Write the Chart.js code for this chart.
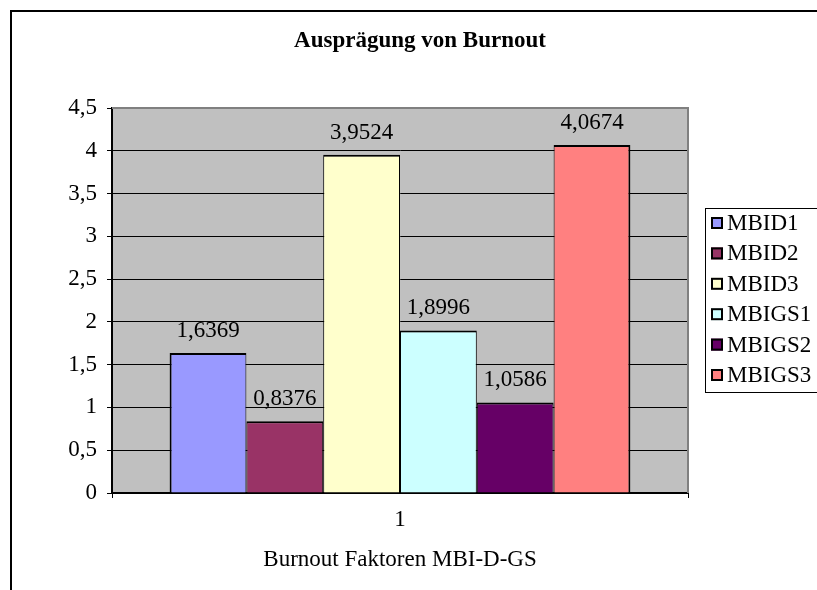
<!DOCTYPE html>
<html><head><meta charset="utf-8">
<script src="https://cdn.jsdelivr.net/npm/chart.js@4/dist/chart.umd.min.js"></script>
<style>html,body{margin:0;padding:0;background:#fff;overflow:hidden}canvas{display:block}</style>
</head><body>
<canvas id="c" width="817" height="590"></canvas>
<script>
const chartTitle = 'Ausprägung von Burnout';
const axisTitle = 'Burnout Faktoren MBI-D-GS';
const categories = ['1'];
const seriesNames = ['MBID1', 'MBID2', 'MBID3', 'MBIGS1', 'MBIGS2', 'MBIGS3'];
const seriesValues = [1.6369, 0.8376, 3.9524, 1.8996, 1.0586, 4.0674];
const seriesColors = ['#9999FF', '#993366', '#FFFFCC', '#CCFFFF', '#660066', '#FF8080'];
const yMin = 0, yMax = 4.5, yStep = 0.5;

const FONT = "'Liberation Serif','Times New Roman',serif";
const fmt = v => String(v).replace('.', ',');

const datasets = seriesNames.map((name, i) => ({
  label: name,
  data: [seriesValues[i]],
  backgroundColor: seriesColors[i],
  borderColor: '#000',
  borderWidth: {top: 2, bottom: 0, left: i === 0 ? 2 : 1, right: i === seriesNames.length - 1 ? 2 : 1},
  borderSkipped: false,
  categoryPercentage: 0.8,
  barPercentage: 1.0
}));

const deco = {
  id: 'deco',
  beforeDraw(chart) {
    const {ctx, chartArea: a} = chart;
    ctx.save();
    ctx.fillStyle = '#fff';
    ctx.fillRect(0, 0, chart.width, chart.height);
    ctx.fillStyle = '#C0C0C0';
    ctx.fillRect(a.left, a.top, a.right - a.left, a.bottom - a.top);
    ctx.restore();
  },
  afterDatasetsDraw(chart) {
    const ctx = chart.ctx;
    ctx.save();
    ctx.font = '23px ' + FONT;
    ctx.fillStyle = '#000';
    ctx.textAlign = 'center';
    ctx.textBaseline = 'alphabetic';
    chart.data.datasets.forEach((ds, i) => {
      const el = chart.getDatasetMeta(i).data[0];
      ctx.fillText(ds.data[0].toFixed(4).replace('.', ','), el.x, el.y - 16);
    });
    ctx.restore();
  },
  afterDraw(chart) {
    const {ctx, chartArea: a} = chart;
    ctx.save();
    // plot border top/right
    ctx.strokeStyle = '#808080';
    ctx.lineWidth = 2;
    ctx.beginPath();
    ctx.moveTo(a.left, a.top);
    ctx.lineTo(a.right, a.top);
    ctx.lineTo(a.right, a.bottom);
    ctx.stroke();
    // outer frame
    ctx.strokeStyle = '#000';
    ctx.lineWidth = 2;
    ctx.strokeRect(11, 11, 900, 700);
    // title
    ctx.fillStyle = '#000';
    ctx.font = 'bold 23px ' + FONT;
    ctx.textAlign = 'center';
    ctx.textBaseline = 'alphabetic';
    ctx.fillText(chartTitle, 420, 47);
    // legend
    const lx = 705, ly = 208;
    ctx.fillStyle = '#fff';
    ctx.fillRect(lx, ly, 140, 184);
    ctx.strokeStyle = '#000';
    ctx.lineWidth = 1;
    ctx.strokeRect(lx + 0.5, ly + 0.5, 140, 184);
    ctx.font = '23px ' + FONT;
    ctx.textAlign = 'left';
    chart.data.datasets.forEach((ds, i) => {
      const base = 230 + i * 30.4;
      ctx.fillStyle = ds.backgroundColor;
      ctx.fillRect(711, base - 13, 12, 12);
      ctx.strokeStyle = '#000';
      ctx.lineWidth = 2;
      ctx.strokeRect(712, base - 12, 10, 10);
      ctx.fillStyle = '#000';
      ctx.fillText(ds.label, 727, base);
    });
    ctx.restore();
  }
};

new Chart(document.getElementById('c'), {
  type: 'bar',
  data: {labels: categories, datasets},
  options: {
    responsive: false,
    animation: false,
    devicePixelRatio: 1,
    layout: {padding: {left: 12, right: 129, top: 108, bottom: 0}},
    plugins: {legend: {display: false}, title: {display: false}, tooltip: {enabled: false}},
    scales: {
      x: {
        grid: {display: true, drawOnChartArea: false, offset: true, tickLength: 5, color: '#000', lineWidth: 1},
        border: {display: true, color: '#000', width: 2},
        ticks: {color: '#000', font: {family: FONT, size: 23}, padding: 8},
        title: {display: true, text: axisTitle, color: '#000', font: {family: FONT, size: 23}, padding: {top: 0, bottom: 16}},
        afterFit(scale) { scale.height = 97; }
      },
      y: {
        min: yMin, max: yMax,
        grid: {color: '#000', lineWidth: 1, tickLength: 5},
        border: {display: true, color: '#000', width: 2},
        ticks: {stepSize: yStep, color: '#000', font: {family: FONT, size: 23}, padding: 10, callback: v => fmt(v)},
        afterFit(scale) { scale.width = 100; }
      }
    }
  },
  plugins: [deco]
});
</script>
</body></html>
